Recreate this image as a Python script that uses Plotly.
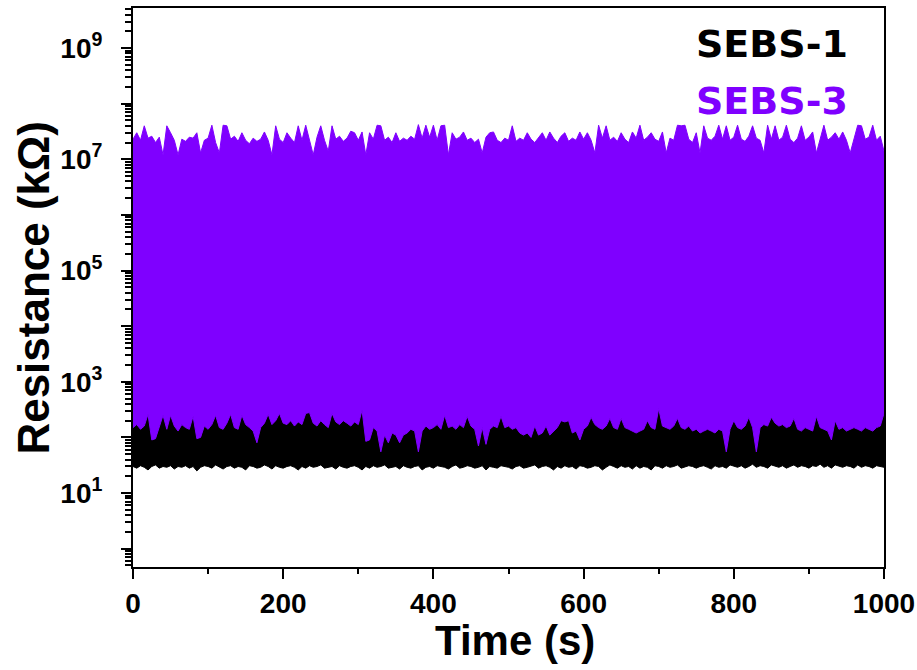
import plotly.graph_objects as go

# ---- data ----
time_s = list(range(0, 1001, 5))  # sampling grid of the envelope, s

# SEBS-3 envelope (kΩ): upper peaks and lower troughs
sebs3_upper = [
    2.3e7, 3.0e7, 2.2e7, 4.0e7, 2.4e7, 2.6e7, 2.0e7, 2.5e7, 1.2e7, 4.0e7,
    3.0e7, 2.2e7, 1.2e7, 2.3e7, 2.1e7, 2.5e7, 2.4e7, 3.0e7, 1.3e7, 2.2e7,
    2.4e7, 4.1e7, 2.0e7, 1.3e7, 4.1e7, 4.0e7, 2.3e7, 2.6e7, 2.1e7, 3.0e7,
    2.2e7, 1.9e7, 2.4e7, 2.1e7, 2.3e7, 3.1e7, 2.2e7, 1.2e7, 4.0e7, 2.3e7,
    2.0e7, 3.0e7, 2.4e7, 2.0e7, 4.0e7, 2.2e7, 4.1e7, 2.3e7, 1.2e7, 2.5e7,
    4.0e7, 2.2e7, 1.4e7, 4.0e7, 2.3e7, 2.6e7, 2.1e7, 2.4e7, 3.2e7, 3.0e7,
    2.2e7, 3.1e7, 1.2e7, 3.0e7, 2.3e7, 4.1e7, 4.0e7, 2.2e7, 2.5e7, 2.0e7,
    3.0e7, 2.1e7, 2.4e7, 2.2e7, 2.6e7, 2.3e7, 4.2e7, 2.4e7, 4.1e7, 2.5e7,
    4.1e7, 2.2e7, 4.0e7, 4.1e7, 1.2e7, 3.0e7, 2.3e7, 2.5e7, 3.1e7, 2.2e7,
    2.4e7, 2.0e7, 2.3e7, 1.3e7, 2.5e7, 3.0e7, 3.1e7, 2.2e7, 2.0e7, 2.4e7,
    2.2e7, 4.0e7, 2.1e7, 2.4e7, 2.2e7, 3.0e7, 2.3e7, 2.0e7, 2.5e7, 3.0e7,
    2.2e7, 3.1e7, 2.4e7, 2.0e7, 2.6e7, 3.0e7, 2.1e7, 2.4e7, 2.2e7, 3.1e7,
    2.3e7, 3.0e7, 2.2e7, 1.3e7, 4.1e7, 2.4e7, 4.0e7, 2.2e7, 2.5e7, 2.1e7,
    3.0e7, 2.3e7, 2.0e7, 3.1e7, 2.4e7, 4.1e7, 2.2e7, 2.5e7, 3.0e7, 2.3e7,
    2.1e7, 3.1e7, 1.3e7, 2.4e7, 2.2e7, 4.1e7, 4.0e7, 4.1e7, 2.3e7, 2.0e7,
    3.0e7, 1.3e7, 4.0e7, 2.4e7, 2.2e7, 2.6e7, 4.1e7, 2.3e7, 4.0e7, 2.2e7,
    2.5e7, 4.1e7, 2.3e7, 2.1e7, 2.6e7, 4.0e7, 2.4e7, 2.2e7, 1.3e7, 4.1e7,
    2.3e7, 4.0e7, 2.2e7, 2.5e7, 4.1e7, 2.3e7, 2.0e7, 2.4e7, 4.0e7, 2.2e7,
    2.5e7, 3.1e7, 1.3e7, 2.4e7, 4.1e7, 2.2e7, 2.5e7, 3.0e7, 2.3e7, 3.1e7,
    2.2e7, 1.3e7, 2.4e7, 4.1e7, 4.0e7, 2.3e7, 2.5e7, 4.1e7, 2.2e7, 2.6e7,
    1.4e7,
]
sebs3_lower = [
    150, 170, 140, 160, 260, 90, 95, 150, 250, 140,
    250, 160, 130, 170, 150, 140, 240, 95, 100, 160,
    140, 170, 250, 150, 140, 180, 260, 150, 140, 250,
    170, 150, 130, 80, 150, 180, 260, 170, 200, 270,
    180, 170, 200, 160, 190, 170, 270, 280, 180, 160,
    200, 170, 150, 270, 190, 170, 200, 180, 160, 190,
    170, 310, 85, 90, 150, 130, 55, 110, 80, 120,
    110, 80, 110, 120, 140, 130, 55, 130, 160, 140,
    150, 170, 140, 250, 150, 160, 140, 170, 150, 240,
    160, 140, 70, 150, 75, 140, 160, 150, 240, 150,
    160, 140, 150, 120, 110, 120, 100, 160, 110, 120,
    160, 110, 130, 150, 200, 190, 200, 120, 130, 90,
    140, 160, 230, 170, 150, 140, 160, 220, 150, 140,
    220, 150, 140, 130, 120, 130, 140, 200, 150, 140,
    330, 160, 150, 140, 160, 220, 150, 140, 160, 130,
    140, 120, 130, 140, 130, 120, 140, 130, 55, 140,
    200, 150, 140, 160, 230, 150, 55, 150, 170, 160,
    230, 180, 160, 170, 150, 160, 220, 140, 130, 150,
    140, 130, 240, 150, 140, 130, 90, 200, 140, 150,
    130, 140, 150, 140, 130, 150, 140, 130, 150, 160,
    270,
]

# SEBS-1 envelope (kΩ): upper peaks (mostly hidden behind SEBS-3) and lower troughs
sebs1_upper = [
    380, 420, 360, 440, 400, 370, 410, 390, 430, 360,
    400, 420, 380, 440, 370, 410, 390, 360, 420, 400,
    380, 430, 410, 370, 390, 420, 440, 380, 400, 410,
    360, 390, 420, 380, 400, 430, 410, 370, 390, 440,
    400, 380, 420, 360, 410, 390, 430, 440, 380, 400,
    420, 370, 390, 430, 410, 380, 400, 420, 360, 390,
    410, 450, 380, 400, 420, 370, 390, 410, 380, 400,
    430, 360, 390, 420, 400, 380, 410, 370, 430, 390,
    400, 420, 380, 410, 360, 390, 430, 400, 380, 420,
    410, 370, 390, 400, 430, 380, 410, 360, 420, 400,
    390, 380, 420, 410, 370, 400, 430, 390, 380, 410,
    420, 360, 400, 390, 430, 410, 380, 400, 370, 420,
    390, 410, 430, 380, 400, 360, 420, 390, 410, 380,
    430, 400, 370, 390, 420, 410, 380, 400, 430, 390,
    460, 410, 380, 400, 420, 430, 390, 370, 410, 400,
    380, 420, 390, 360, 410, 400, 380, 430, 390, 420,
    410, 380, 400, 370, 420, 390, 410, 380, 430, 400,
    420, 390, 370, 410, 400, 380, 430, 390, 420, 400,
    380, 410, 430, 390, 370, 400, 420, 410, 380, 390,
    400, 420, 380, 410, 390, 430, 400, 380, 420, 410,
    430,
]
sebs1_lower = [
    30, 28, 31, 29, 26, 30, 32, 28, 30, 29,
    31, 27, 30, 29, 31, 28, 30, 25, 29, 31,
    30, 28, 32, 29, 27, 30, 31, 28, 30, 29,
    26, 31, 30, 28, 29, 32, 30, 27, 31, 29,
    28, 30, 31, 29, 26, 30, 28, 31, 29, 30,
    32, 28, 29, 30, 27, 31, 29, 28, 30, 31,
    29, 26, 30, 28, 31, 29, 30, 32, 28, 29,
    30, 27, 31, 29, 28, 30, 31, 26, 29, 30,
    28, 31, 30, 29, 27, 30, 32, 28, 29, 31,
    30, 28, 29, 31, 26, 30, 29, 28, 31, 30,
    29, 27, 30, 31, 28, 29, 30, 32, 28, 30,
    31, 29, 26, 30, 28, 31, 29, 30, 27, 31,
    30, 28, 29, 31, 30, 26, 29, 32, 30, 28,
    31, 29, 30, 27, 31, 28, 30, 29, 26, 31,
    30, 28, 31, 29, 30, 32, 28, 29, 31, 30,
    28, 30, 31, 29, 27, 31, 29, 30, 28, 32,
    30, 29, 31, 28, 30, 33, 29, 31, 30, 28,
    32, 30, 29, 31, 28, 30, 32, 29, 31, 30,
    28, 31, 30, 33, 29, 31, 28, 32, 30, 29,
    31, 30, 28, 32, 29, 31, 30, 28, 31, 30,
    29,
]

series_names = ["SEBS-1", "SEBS-3"]
series_colors = ["#000000", "#7f00ff"]

x_tick_vals = [0, 200, 400, 600, 800, 1000]
y_major_vals = [10 ** k for k in range(0, 10)]
y_major_text = ["" if k % 2 == 0 else f"10<sup>{k}</sup>" for k in range(0, 10)]
y_minor_vals = [m * 10 ** k for k in range(-1, 10) for m in range(2, 10)]

# ---- figure ----
fig = go.Figure()

envelopes = [(sebs1_lower, sebs1_upper), (sebs3_lower, sebs3_upper)]
for (lower, upper), name, color in zip(envelopes, series_names, series_colors):
    fig.add_trace(go.Scatter(
        x=time_s, y=lower, mode="lines", line=dict(color=color, width=1),
        showlegend=False, hoverinfo="skip", name=name,
    ))
    fig.add_trace(go.Scatter(
        x=time_s, y=upper, mode="lines", line=dict(color=color, width=1),
        fill="tonexty", fillcolor=color, showlegend=False, name=name,
    ))

tickfont = dict(family="Liberation Sans, Arial", size=28, color="black", weight="bold")

fig.update_xaxes(
    range=[0, 1000], tickvals=x_tick_vals, ticks="outside", ticklen=10, tickwidth=2,
    tickcolor="black", showline=True, linecolor="black", linewidth=2, mirror=True,
    showgrid=False, zeroline=False, tickfont=tickfont, ticklabelstandoff=0,
    automargin=False,
    minor=dict(ticks="outside", ticklen=5, tickwidth=2, tickcolor="black",
               tickvals=[100, 300, 500, 700, 900], showgrid=False),
)
fig.update_yaxes(
    type="log", range=[-0.33, 9.72], tickvals=y_major_vals, ticktext=y_major_text,
    ticks="outside", ticklen=10, tickwidth=2, tickcolor="black",
    showline=True, linecolor="black", linewidth=2, mirror=True,
    showgrid=False, zeroline=False, tickfont=tickfont, ticklabelstandoff=13,
    automargin=False,
    minor=dict(ticks="outside", ticklen=6, tickwidth=1.5, tickcolor="black",
               tickvals=y_minor_vals, showgrid=False),
)

title_font = dict(family="Liberation Sans, Arial", size=42, color="black", weight="bold")
fig.add_annotation(text="Time (s)", xref="paper", yref="paper", x=0.509, y=-0.132,
                   xanchor="center", yanchor="middle", showarrow=False, font=title_font)
fig.add_annotation(text="Resistance (kΩ)", xref="paper", yref="paper", x=-0.133, y=0.5,
                   xanchor="center", yanchor="middle", textangle=-90, showarrow=False,
                   font=dict(family="Liberation Sans, Arial", size=44, color="black", weight="bold"))

legend_y = [0.936, 0.834]
for name, color, ly in zip(series_names, series_colors, legend_y):
    fig.add_annotation(text=name, xref="paper", yref="paper", x=0.955, y=ly,
                       xanchor="right", yanchor="middle", showarrow=False,
                       font=dict(family="DejaVu Sans", size=38, color=color, weight="bold"))

fig.update_layout(
    width=917, height=670,
    margin=dict(l=133, r=33, t=8, b=103, autoexpand=False),
    paper_bgcolor="white", plot_bgcolor="white",
    showlegend=False,
)

fig.write_html("out.html", config={"displayModeBar": False},
               post_script="document.body.style.margin='0px';")
